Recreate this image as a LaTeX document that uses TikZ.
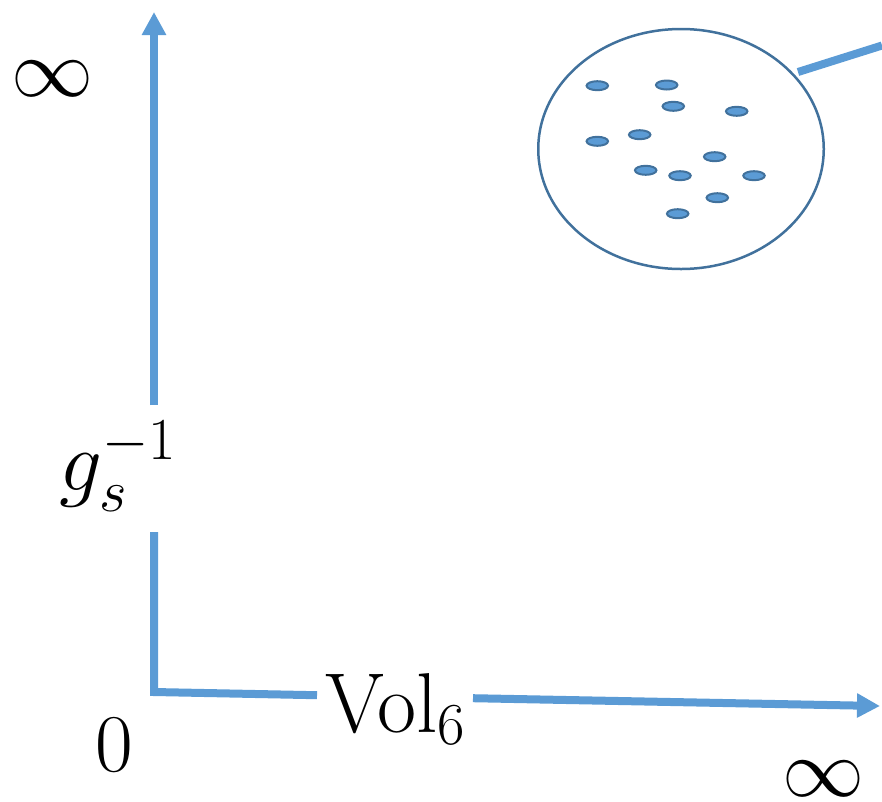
\RequirePackage{fix-cm}
\documentclass[tikz,border=0pt]{standalone}
\usetikzlibrary{arrows.meta,shapes.geometric}
\definecolor{axisblue}{HTML}{5B9BD5}
\definecolor{edgeblue}{HTML}{41719C}
\tikzset{
  axisline/.style={draw=axisblue, line width=8pt, line join=miter},
  axistip/.style={-{Triangle[length=23pt,width=23pt]}},
  dot/.style={ellipse, draw=edgeblue, fill=axisblue, line width=2pt, minimum width=21.5pt, minimum height=9pt, inner sep=0pt},
  lbl/.style={font=\fontsize{82}{90}\selectfont, inner sep=0pt, text=black},
  biglbl/.style={font=\fontsize{85}{94}\selectfont, inner sep=0pt, text=black}
}
\begin{document}
\begin{tikzpicture}[x=1pt,y=-1pt]
\useasboundingbox (0,0) rectangle (882,801);
% labels
\node[lbl] (inftop) at (52,79) {$\infty$};
\node[biglbl, anchor=base west] (gs) at (59,490) {$g_s^{-1}$};
\node[lbl, anchor=base] (zero) at (114,771) {$0$};
\node[biglbl, anchor=base west] (vol) at (325,732) {$\mathrm{Vol}_6$};
\node[lbl] (infright) at (823,779) {$\infty$};
% axis coordinates
\coordinate (O) at (154,692);
\coordinate (vlow) at (154,532);
\coordinate (vhigh) at (154,405);
\coordinate (vtip) at (154,12);
\coordinate (hleft) at (317,695.2);
\coordinate (hright) at (473,698.2);
\coordinate (htip) at (880,706);
% axes
\draw[axisline] (vlow) -- (O) -- (hleft);
\draw[axisline, axistip] (vhigh) -- (vtip);
\draw[axisline, axistip] (hright) -- (htip);
% zoom circle
\node[ellipse, draw=edgeblue, line width=2.5pt, minimum width=285.5pt, minimum height=240pt, inner sep=0pt] (blob) at (681,149) {};
\coordinate (lstart) at (798,72);
\coordinate (lend) at (882,45.5);
\draw[axisline] (lstart) -- (lend);
% dots
\node[dot] (d1) at (597.3,85.7) {};
\node[dot] (d2) at (666.7,85) {};
\node[dot] (d3) at (673.3,106.3) {};
\node[dot] (d4) at (736.7,111.3) {};
\node[dot] (d5) at (597.3,141.3) {};
\node[dot] (d6) at (639.7,134.7) {};
\node[dot] (d7) at (714.7,156.7) {};
\node[dot] (d8) at (645.7,170.3) {};
\node[dot] (d9) at (680,175.7) {};
\node[dot] (d10) at (754,175.7) {};
\node[dot] (d11) at (717.3,197.7) {};
\node[dot] (d12) at (677.7,213.7) {};
\end{tikzpicture}
\end{document}
